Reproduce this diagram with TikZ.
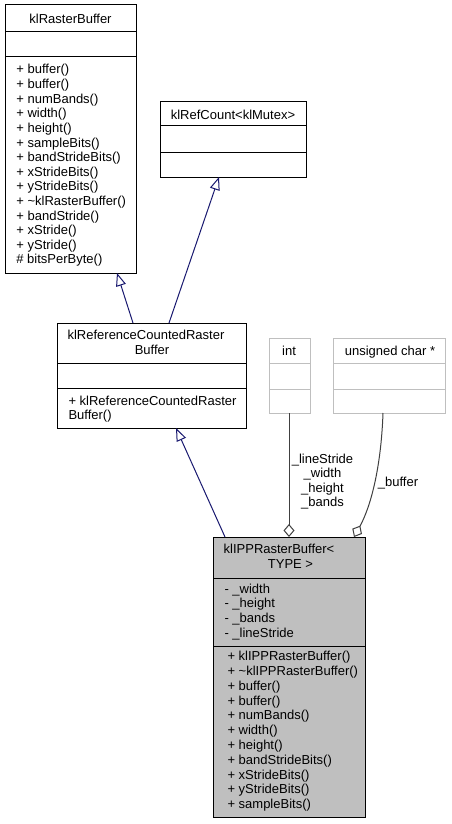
\documentclass[tikz,border=0pt]{standalone}
\usepackage{fontspec}
\setmainfont{Liberation Sans}
\usetikzlibrary{arrows.meta}
\definecolor{inh}{HTML}{191970}
\definecolor{gseventy}{HTML}{BFBFBF}
\definecolor{gtwenty}{HTML}{404040}
\begin{document}
\begin{tikzpicture}[x=1pt,y=1pt,font=\fontsize{13}{14.6}\selectfont,
  box/.style={draw=black, line width=1pt, fill=white, rectangle, inner sep=0pt, outer sep=0pt, anchor=north west},
  gbox/.style={box, draw=gseventy},
  txt/.style={inner sep=0pt, outer sep=0pt},
  sepline/.style={draw=black, line width=1pt},
  gsepline/.style={draw=gseventy, line width=1pt},
  inherit/.style={draw=inh, line width=1pt, -{Triangle[open, length=13pt, width=10pt]}},
  agg/.style={draw=gtwenty, line width=1pt, -{Diamond[open, length=13pt, width=11pt]}}]
\useasboundingbox (0,0) rectangle (451,-824);
\fill[white] (0,0) rectangle (451,-824);

% klRasterBuffer
\node[box, minimum width=131pt, minimum height=268pt] (rb) at (5,-5) {};
\draw[sepline] ([yshift=-27pt]rb.north west) -- ([yshift=-27pt]rb.north east);
\draw[sepline] ([yshift=-52pt]rb.north west) -- ([yshift=-52pt]rb.north east);
\node[txt, anchor=base] (rbt) at (70.5,-23.5) {klRasterBuffer};
\foreach \t [count=\i from 0] in {{+ buffer()},{+ buffer()},{+ numBands()},{+ width()},{+ height()},{+ sampleBits()},{+ bandStrideBits()},{+ xStrideBits()},{+ yStrideBits()},{+ \textasciitilde klRasterBuffer()},{+ bandStride()},{+ xStride()},{+ yStride()},{\# bitsPerByte()}}
  \node[txt, anchor=base west] (rbm\i) at (16.4,{-74-14.6*\i}) {\t};

% klRefCount<klMutex>
\node[box, minimum width=146pt, minimum height=75pt] (rc) at (160,-102) {};
\draw[sepline] ([yshift=-24pt]rc.north west) -- ([yshift=-24pt]rc.north east);
\draw[sepline] ([yshift=-50pt]rc.north west) -- ([yshift=-50pt]rc.north east);
\node[txt, anchor=base] (rct) at (233,-119.3) {klRefCount<klMutex>};

% klReferenceCountedRasterBuffer
\node[box, minimum width=189pt, minimum height=105pt] (rcb) at (57,-323) {};
\draw[sepline] ([yshift=-40pt]rcb.north west) -- ([yshift=-40pt]rcb.north east);
\draw[sepline] ([yshift=-65pt]rcb.north west) -- ([yshift=-65pt]rcb.north east);
\node[txt, anchor=base] (rcbta) at (146,-339) {klReferenceCountedRaster};
\node[txt, anchor=base] (rcbtb) at (152,-354) {Buffer};
\node[txt, anchor=base west] (rcbma) at (68.5,-405) {+ klReferenceCountedRaster};
\node[txt, anchor=base west] (rcbmb) at (68.5,-419.5) {Buffer()};

% int
\node[gbox, minimum width=41pt, minimum height=75pt] (int) at (269,-338) {};
\draw[gsepline] ([yshift=-25pt]int.north west) -- ([yshift=-25pt]int.north east);
\draw[gsepline] ([yshift=-51pt]int.north west) -- ([yshift=-51pt]int.north east);
\node[txt, anchor=base] (intt) at (289,-355) {int};

% unsigned char *
\node[gbox, minimum width=112pt, minimum height=75pt] (uc) at (333,-338) {};
\draw[gsepline] ([yshift=-25pt]uc.north west) -- ([yshift=-25pt]uc.north east);
\draw[gsepline] ([yshift=-51pt]uc.north west) -- ([yshift=-51pt]uc.north east);
\node[txt, anchor=base] (uct) at (390,-355) {unsigned char *};

% klIPPRasterBuffer< TYPE >
\node[box, fill=gseventy, minimum width=152pt, minimum height=280pt] (ipp) at (213,-537) {};
\draw[sepline] ([yshift=-41pt]ipp.north west) -- ([yshift=-41pt]ipp.north east);
\draw[sepline] ([yshift=-109pt]ipp.north west) -- ([yshift=-109pt]ipp.north east);
\node[txt, anchor=base] (ippta) at (279,-553.5) {klIPPRasterBuffer<};
\node[txt, anchor=base] (ipptb) at (290.5,-568) {TYPE >};
\foreach \t [count=\i from 0] in {{- \_width},{- \_height},{- \_bands},{- \_lineStride}}
  \node[txt, anchor=base west] (ippa\i) at (224.5,{-593.3-14.6*\i}) {\t};
\foreach \t [count=\i from 0] in {{+ klIPPRasterBuffer()},{+ \textasciitilde klIPPRasterBuffer()},{+ buffer()},{+ buffer()},{+ numBands()},{+ width()},{+ height()},{+ bandStrideBits()},{+ xStrideBits()},{+ yStrideBits()},{+ sampleBits()}}
  \node[txt, anchor=base west] (ippm\i) at (227.5,{-660.7-14.8*\i}) {\t};

% inheritance
\draw[inherit] ([xshift=76pt]rcb.north west) -- ([xshift=112pt]rb.south west);
\draw[inherit] ([xshift=112pt]rcb.north west) -- ([xshift=59pt]rc.south west);
\draw[inherit] ([xshift=12pt]ipp.north west) -- ([xshift=119pt]rcb.south west);

% aggregation
\draw[agg] ([xshift=20pt]int.south west) -- ([xshift=76pt]ipp.north west);
\draw[agg] ([xshift=50pt]uc.south west) .. controls (381,-470) and (370,-508) .. ([xshift=141pt]ipp.north west);

% labels
\foreach \t [count=\i from 0] in {{\_lineStride},{\_width},{\_height},{\_bands}}
  \node[txt, anchor=base] (lab\i) at (322.5,{-463-14.6*\i}) {\t};
\node[txt, anchor=base] (labbuf) at (398,-486.7) {\_buffer};
\end{tikzpicture}
\end{document}
